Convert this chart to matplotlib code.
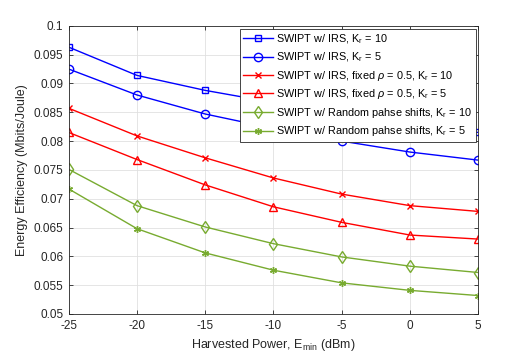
import matplotlib
matplotlib.use("Agg")
import matplotlib.pyplot as plt

plt.rcParams['font.family'] = ['Liberation Sans', 'DejaVu Sans']
plt.rcParams['mathtext.fontset'] = 'custom'
plt.rcParams['mathtext.rm'] = 'Liberation Sans'
plt.rcParams['mathtext.it'] = 'Liberation Sans:italic'

# potencia colhida (dBm)
emin = [-25, -20, -15, -10, -5, 0, 5]

# eficiencia energetica (Mbits/Joule)
irs_k10 = [0.0963, 0.0914, 0.0888, 0.0867, 0.0848, 0.0830, 0.0815]
irs_k5 = [0.0925, 0.0880, 0.0847, 0.0822, 0.0800, 0.0781, 0.0767]
fixed_k10 = [0.0857, 0.0809, 0.0771, 0.0736, 0.0708, 0.0688, 0.0678]
fixed_k5 = [0.0815, 0.0768, 0.0724, 0.0686, 0.0659, 0.0637, 0.0630]
rand_k10 = [0.0751, 0.0688, 0.0651, 0.0622, 0.0599, 0.0583, 0.0572]
rand_k5 = [0.0717, 0.0648, 0.0606, 0.0576, 0.0554, 0.0541, 0.0532]

labels = [
    r'SWIPT w/ IRS, K$_\mathregular{r}$ = 10',
    r'SWIPT w/ IRS, K$_\mathregular{r}$ = 5',
    r'SWIPT w/ IRS, fixed $\rho$ = 0.5, K$_\mathregular{r}$ = 10',
    r'SWIPT w/ IRS, fixed $\rho$ = 0.5, K$_\mathregular{r}$ = 5',
    r'SWIPT w/ Random pahse shifts, K$_\mathregular{r}$ = 10',
    r'SWIPT w/ Random pahse shifts, K$_\mathregular{r}$ = 5',
]

azul = (0, 0, 1)
verm = (1, 0, 0)
verde = (0.47, 0.67, 0.19)

fig = plt.figure(figsize=(5.29, 3.54), dpi=100)
ax = fig.add_axes([0.130, 0.113, 0.774, 0.814])

ax.plot(emin, irs_k10, color=azul, marker='s', mfc='none', ms=5, lw=1, label=labels[0])
ax.plot(emin, irs_k5, color=azul, marker='o', mfc='none', ms=6, lw=1, label=labels[1])
ax.plot(emin, fixed_k10, color=verm, marker='x', ms=4.5, lw=1, label=labels[2])
ax.plot(emin, fixed_k5, color=verm, marker='^', mfc='none', ms=6, lw=1, label=labels[3])
ax.plot(emin, rand_k10, color=verde, marker='d', mfc='none', ms=6, lw=1, label=labels[4])
ax.plot(emin, rand_k5, color=verde, marker=(6, 2, 0), ms=5, lw=1, label=labels[5])

ax.set_xlim(-25, 5)
ax.set_ylim(0.05, 0.1)
ax.set_xticks(emin)
ax.set_xticklabels(['-25', '-20', '-15', '-10', '-5', '0', '5'])
yt = [0.05, 0.055, 0.06, 0.065, 0.07, 0.075, 0.08, 0.085, 0.09, 0.095, 0.1]
ax.set_yticks(yt)
ax.set_yticklabels(['0.05', '0.055', '0.06', '0.065', '0.07', '0.075', '0.08',
                    '0.085', '0.09', '0.095', '0.1'])
ax.tick_params(direction='in', top=True, right=True, labelsize=8.5,
               colors=(0.15, 0.15, 0.15), length=3, width=0.6, pad=4)
ax.grid(True, color=(0.88, 0.88, 0.88), lw=0.6)
for s in ax.spines.values():
    s.set_color((0.15, 0.15, 0.15))
    s.set_linewidth(0.6)

ax.set_xlabel(r'Harvested Power, E$_\mathregular{min}$ (dBm)', fontsize=9, color=(0.15, 0.15, 0.15))
ax.set_ylabel('Energy Efficiency (Mbits/Joule)', fontsize=9, color=(0.15, 0.15, 0.15))

leg = ax.legend(loc='upper right', fontsize=7.8, fancybox=False, framealpha=1,
                edgecolor=(0.15, 0.15, 0.15), borderaxespad=0.25, handlelength=2.7,
                labelspacing=0.42, borderpad=0.35, handletextpad=0.3)
leg.get_frame().set_linewidth(0.6)

fig.savefig('out.png', dpi=100)
